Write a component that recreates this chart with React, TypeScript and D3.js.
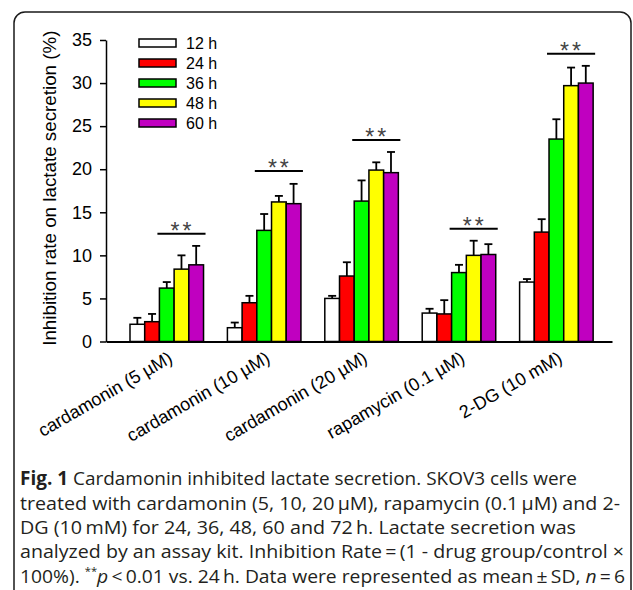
import React, { Component } from 'react';
import * as d3 from "d3";

const groups = ["cardamonin (5 µM)", "cardamonin (10 µM)", "cardamonin (20 µM)", "rapamycin (0.1 µM)", "2-DG (10 mM)"];
const series = ["12 h", "24 h", "36 h", "48 h", "60 h"];
const colors = ["#ffffff", "#ff0000", "#00ff00", "#ffff00", "#c000c0"];

// mean values per time point, one entry per group
const mean12 = [2.0, 1.6, 5.0, 3.3, 6.9];
const mean24 = [2.3, 4.5, 7.6, 3.2, 12.7];
const mean36 = [6.2, 12.9, 16.3, 8.0, 23.5];
const mean48 = [8.4, 16.2, 19.9, 10.0, 29.7];
const mean60 = [8.9, 16.0, 19.6, 10.1, 30.0];

// SD (upper error bar only)
const sd12 = [0.75, 0.6, 0.3, 0.5, 0.35];
const sd24 = [0.9, 0.8, 1.6, 1.6, 1.5];
const sd36 = [0.7, 1.9, 2.4, 0.9, 2.3];
const sd48 = [1.6, 0.7, 0.9, 1.7, 2.1];
const sd60 = [2.2, 2.3, 2.4, 1.2, 2.0];

// height of the ** bracket for each group
const sigLevel = [12.5, 19.8, 23.4, 13.1, 33.4];

const yTicks = [0, 5, 10, 15, 20, 25, 30, 35];
const yTitle = "Inhibition rate on lactate secretion (%)";

class App extends Component {

    componentDidMount() {
        this.initializeChart();
    }

    initializeChart() {
        const means = [mean12, mean24, mean36, mean48, mean60];
        const sds = [sd12, sd24, sd36, sd48, sd60];
        const font = "'Liberation Sans', Arial, sans-serif";

        const root = d3.select("#chart");
        root.selectAll("*").remove();

        const svg = root.append("svg")
            .attr("width", 633)
            .attr("height", 590)
            .style("position", "absolute")
            .style("left", 0)
            .style("top", 0)
            .style("background", "#fff");

        // rounded frame around the figure (open at the bottom)
        svg.append("rect")
            .attr("x", 14).attr("y", 12)
            .attr("width", 617).attr("height", 640)
            .attr("rx", 11)
            .attr("fill", "none")
            .attr("stroke", "#1a1a1a")
            .attr("stroke-width", 1.5);

        /* Scale */
        const y = d3.scaleLinear().domain([0, 35]).range([341.5, 40]);
        const x0 = d3.scaleBand()
            .domain(groups)
            .range([106, 612])
            .paddingInner(0.245)
            .paddingOuter(0.22)
            .align(0.56);
        const x1 = d3.scaleBand().domain(series).range([0, x0.bandwidth()]);

        // Y axis
        const gy = svg.append("g")
            .attr("transform", "translate(106,0)")
            .call(d3.axisLeft(y).tickValues(yTicks).tickSize(6).tickSizeOuter(0).tickPadding(8));
        gy.attr("font-family", font).attr("font-size", 18);
        gy.selectAll("path, line").attr("stroke", "#000").attr("stroke-width", 1.5);
        gy.selectAll("text").attr("fill", "#000");

        svg.append("text")
            .attr("transform", "translate(56," + y(17.8) + ") rotate(-90)")
            .attr("text-anchor", "middle")
            .attr("font-family", font)
            .attr("font-size", 18.8)
            .attr("fill", "#000")
            .text(yTitle);

        // X axis
        const gx = svg.append("g")
            .attr("transform", "translate(0," + y(0) + ")")
            .call(d3.axisBottom(x0).tickSize(0).tickSizeOuter(0));
        gx.attr("font-family", font).attr("font-size", 18);
        gx.select("path").attr("stroke", "#000").attr("stroke-width", 1.8);
        gx.selectAll(".tick text")
            .attr("x", 0).attr("y", 0).attr("dy", 0)
            .attr("fill", "#000")
            .attr("text-anchor", "end")
            .attr("transform", "translate(7,20) rotate(-30)");

        // bars + error bars
        const plot = svg.append("g");
        groups.forEach((grp, gi) => {
            const gg = plot.append("g").attr("transform", "translate(" + x0(grp) + ",0)");
            series.forEach((s, si) => {
                const v = means[si][gi];
                const e = sds[si][gi];
                const cx = x1(s) + x1.bandwidth() / 2;
                gg.append("line")
                    .attr("x1", cx).attr("x2", cx)
                    .attr("y1", y(v)).attr("y2", y(v + e))
                    .attr("stroke", "#000").attr("stroke-width", 1.8);
                gg.append("line")
                    .attr("x1", cx - 4).attr("x2", cx + 4)
                    .attr("y1", y(v + e)).attr("y2", y(v + e))
                    .attr("stroke", "#000").attr("stroke-width", 1.8);
                gg.append("rect")
                    .attr("x", x1(s))
                    .attr("y", y(v))
                    .attr("width", x1.bandwidth())
                    .attr("height", y(0) - y(v))
                    .attr("fill", colors[si])
                    .attr("stroke", "#000")
                    .attr("stroke-width", 1.5);
            });

            // ** bracket over 36-60 h
            const lx1 = x1("36 h") - 2;
            const lx2 = x0.bandwidth() + 2;
            gg.append("line")
                .attr("x1", lx1).attr("x2", lx2)
                .attr("y1", y(sigLevel[gi])).attr("y2", y(sigLevel[gi]))
                .attr("stroke", "#000").attr("stroke-width", 2);
            gg.append("text")
                .attr("x", (lx1 + lx2) / 2 + 1)
                .attr("y", y(sigLevel[gi]) + 5)
                .attr("text-anchor", "middle")
                .attr("font-family", font)
                .attr("font-size", 23)
                .attr("letter-spacing", 3)
                .attr("fill", "#444")
                .text("**");
        });

        // legend
        const legend = svg.append("g").attr("transform", "translate(139,39)");
        series.forEach((s, i) => {
            legend.append("rect")
                .attr("x", 0).attr("y", i * 20)
                .attr("width", 37).attr("height", 8)
                .attr("fill", colors[i])
                .attr("stroke", "#000")
                .attr("stroke-width", 1.5);
            legend.append("text")
                .attr("x", 47).attr("y", i * 20 + 4)
                .attr("dy", "0.35em")
                .attr("font-family", font)
                .attr("font-size", 16)
                .attr("fill", "#000")
                .text(s);
        });

        // caption (each line stretched to the width it has in the figure)
        const cap = svg.append("g")
            .attr("font-family", "'Open Sans', 'Noto Sans', sans-serif")
            .attr("font-size", 19)
            .attr("fill", "#231f20");
        const l1 = cap.append("text").attr("x", 20).attr("y", 485)
            .attr("textLength", 557).attr("lengthAdjust", "spacingAndGlyphs");
        l1.append("tspan").attr("font-weight", "bold").text("Fig. 1");
        l1.append("tspan").text(" Cardamonin inhibited lactate secretion. SKOV3 cells were");
        cap.append("text").attr("x", 20).attr("y", 509.5)
            .attr("textLength", 600).attr("lengthAdjust", "spacingAndGlyphs")
            .text("treated with cardamonin (5, 10, 20\u2009µM), rapamycin (0.1\u2009µM) and 2-");
        cap.append("text").attr("x", 20).attr("y", 534)
            .attr("textLength", 556).attr("lengthAdjust", "spacingAndGlyphs")
            .text("DG (10\u2009mM) for 24, 36, 48, 60 and 72\u2009h. Lactate secretion was");
        cap.append("text").attr("x", 20).attr("y", 558)
            .attr("textLength", 604).attr("lengthAdjust", "spacingAndGlyphs")
            .text("analyzed by an assay kit. Inhibition Rate\u2009=\u2009(1 - drug group/control ×");
        const l5 = cap.append("text").attr("x", 20).attr("y", 582.5)
            .attr("textLength", 605).attr("lengthAdjust", "spacingAndGlyphs");
        l5.append("tspan").text("100%). ");
        l5.append("tspan").attr("font-size", 11).attr("dy", -8).text("**");
        l5.append("tspan").attr("font-style", "italic").attr("dy", 8).text("p");
        l5.append("tspan").text("\u2009<\u20090.01 vs. 24\u2009h. Data were represented as mean\u2009±\u2009SD, ");
        l5.append("tspan").attr("font-style", "italic").text("n");
        l5.append("tspan").text("\u2009=\u20096");
    }

    render() {
        return (
            <div id="chart"></div>
        );
    }
}

export default App;
